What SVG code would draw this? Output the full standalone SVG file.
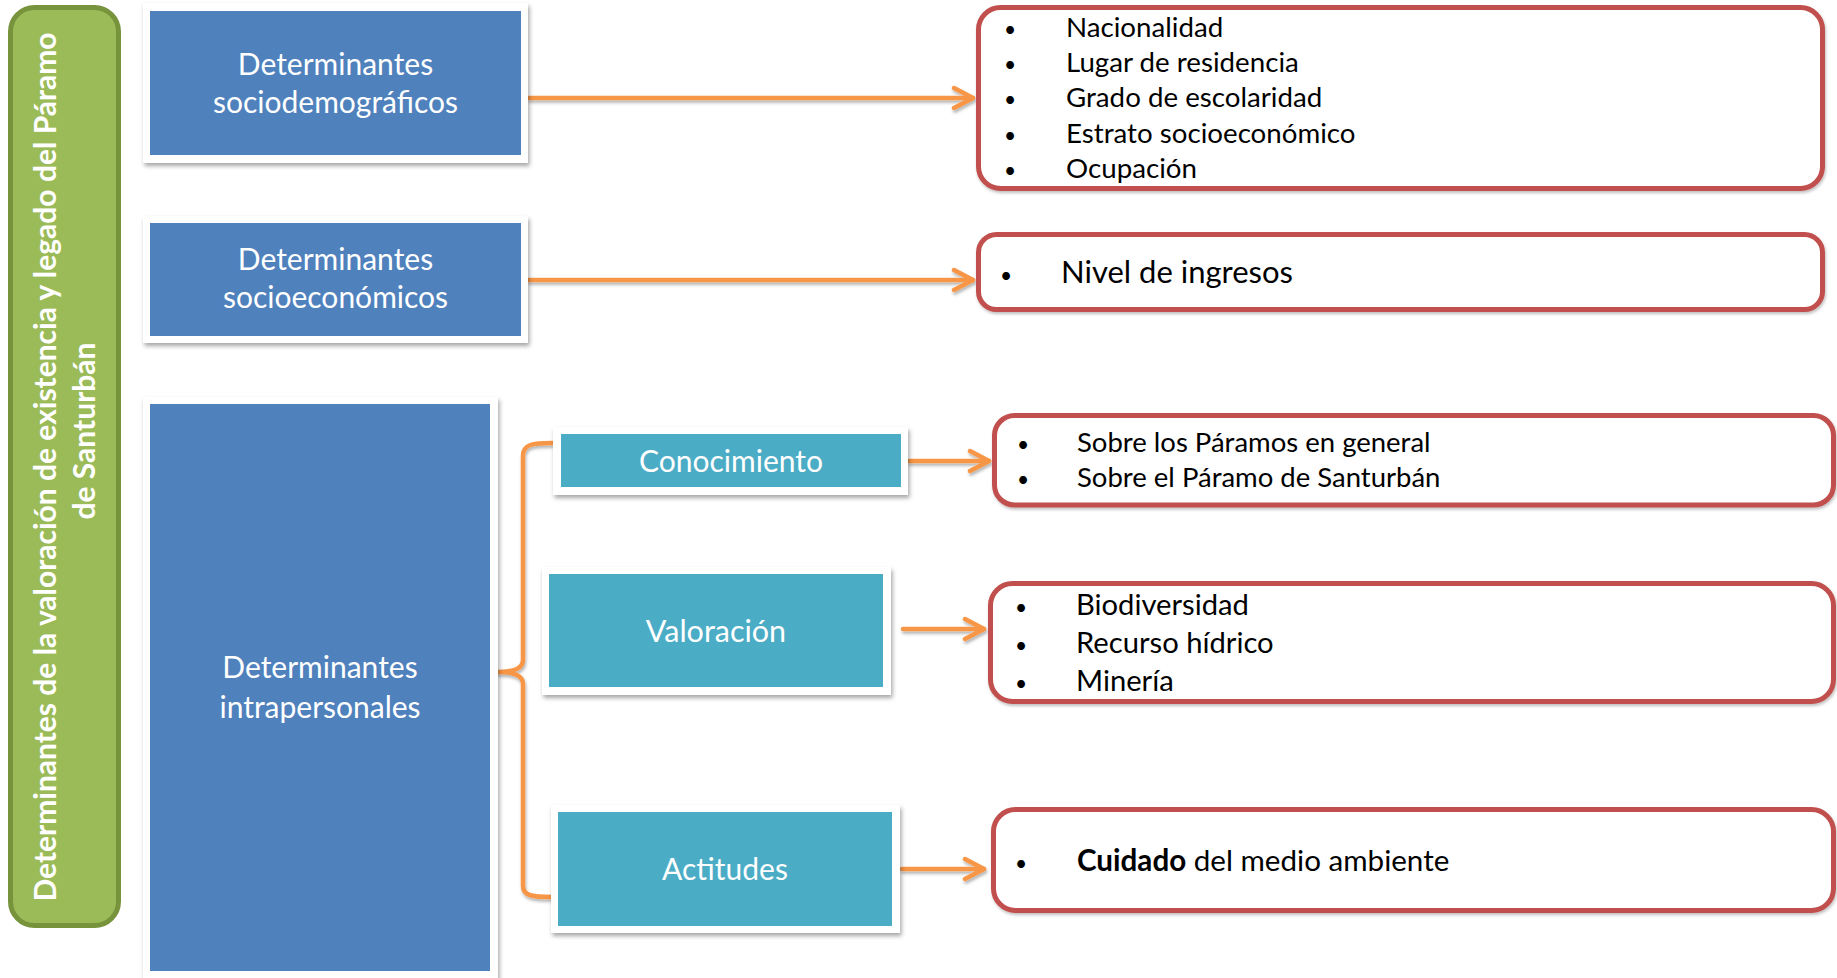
<svg xmlns="http://www.w3.org/2000/svg" width="1837" height="978" viewBox="0 0 1837 978">
  <style>
    .frame { fill: #ffffff; filter: url(#shadow); }
    .blue { fill: #4F81BD; }
    .teal { fill: #4BACC6; }
    .ntext { font-family: Lato, "Open Sans", sans-serif; fill: #ffffff; text-anchor: middle; }
    .list { fill: #ffffff; stroke: #C0504D; stroke-width: 5; filter: url(#shadow2); }
    .ltext { font-family: Lato, "Open Sans", sans-serif; fill: #000000; }
    .bul { text-anchor: middle; font-size: 21px; }
    .conn { fill: none; stroke: #F79646; stroke-width: 4.5; stroke-linecap: round; stroke-linejoin: round; }
    .title { font-family: Lato, "Open Sans", sans-serif; font-weight: bold; font-size: 30px; fill: #ffffff; text-anchor: middle; }
  </style>
  <defs>
    <filter id="shadow" x="-10%" y="-10%" width="120%" height="130%">
      <feDropShadow dx="1.5" dy="3" stdDeviation="2.2" flood-color="#000000" flood-opacity="0.35"/>
    </filter>
    <filter id="shadow2" x="-5%" y="-10%" width="110%" height="130%">
      <feDropShadow dx="1" dy="2" stdDeviation="1.5" flood-color="#000000" flood-opacity="0.25"/>
    </filter>
    <filter id="shadow3" x="-5%" y="-50%" width="110%" height="200%">
      <feDropShadow dx="1" dy="2.5" stdDeviation="1.5" flood-color="#000000" flood-opacity="0.3"/>
    </filter>
    <marker id="chev" markerUnits="userSpaceOnUse" viewBox="0 0 26 26" markerWidth="26" markerHeight="26" refX="22" refY="13" orient="auto">
      <path d="M3 3 L22 13 L3 23" fill="none" stroke="#F79646" stroke-width="4.5" stroke-linecap="round" stroke-linejoin="round"/>
    </marker>
  </defs>
  <rect width="1837" height="978" fill="#ffffff"/>

  <g id="title">
    <rect x="10.5" y="7.5" width="108" height="918" rx="24" fill="#9BBB59" stroke="#77933C" stroke-width="5"/>
    <text class="title" transform="translate(56,467) rotate(-90)">Determinantes de la valoración de existencia y legado del Páramo</text>
    <text class="title" transform="translate(95,431) rotate(-90)">de Santurbán</text>
  </g>

  <g id="connectors" filter="url(#shadow3)">
    <line class="conn" x1="529" y1="98" x2="973" y2="98" marker-end="url(#chev)"/>
    <line class="conn" x1="529" y1="280" x2="973" y2="280" marker-end="url(#chev)"/>
    <line class="conn" x1="909" y1="461" x2="989" y2="461" marker-end="url(#chev)"/>
    <line class="conn" x1="903" y1="629" x2="984" y2="629" marker-end="url(#chev)"/>
    <line class="conn" x1="902" y1="869" x2="984" y2="869" marker-end="url(#chev)"/>
    <path class="conn" d="M552 443 C533 443 523 444 523 456 L523 660 Q523 672 498 672 Q523 672 523 684 L523 886 C523 896 533 897 552 897"/>
  </g>

  <g id="n-sociodemo">
    <rect class="frame" x="143" y="3" width="385" height="160"/>
    <rect class="blue" x="150" y="11" width="371" height="144"/>
    <text class="ntext" x="335.5" y="75" font-size="30">Determinantes</text>
    <text class="ntext" x="335.5" y="113" font-size="30">sociodemográficos</text>
  </g>

  <g id="n-socioeco">
    <rect class="frame" x="143" y="216" width="385" height="127"/>
    <rect class="blue" x="150" y="223" width="371" height="113"/>
    <text class="ntext" x="335.5" y="270" font-size="30">Determinantes</text>
    <text class="ntext" x="335.5" y="308" font-size="30">socioeconómicos</text>
  </g>

  <g id="n-intra">
    <rect class="frame" x="143" y="397" width="355" height="590"/>
    <rect class="blue" x="150" y="404" width="340" height="567"/>
    <text class="ntext" x="320" y="678" font-size="30">Determinantes</text>
    <text class="ntext" x="320" y="718" font-size="30">intrapersonales</text>
  </g>

  <g id="n-conocimiento">
    <rect class="frame" x="553" y="427" width="355" height="68"/>
    <rect class="teal" x="561" y="434" width="340" height="53"/>
    <text class="ntext" x="731" y="472" font-size="30">Conocimiento</text>
  </g>

  <g id="n-valoracion">
    <rect class="frame" x="542" y="567" width="349" height="128"/>
    <rect class="teal" x="549" y="574" width="334" height="113"/>
    <text class="ntext" x="716" y="642" font-size="30.5">Valoración</text>
  </g>

  <g id="n-actitudes">
    <rect class="frame" x="551" y="805" width="349" height="128"/>
    <rect class="teal" x="558" y="812" width="334" height="114"/>
    <text class="ntext" x="725" y="880" font-size="30">Actitudes</text>
  </g>

  <g id="l-sociodemo">
    <rect class="list" x="978.5" y="7.5" width="844" height="181" rx="22"/>
    <g class="ltext" font-size="27.7">
      <text class="bul" x="1010" y="37">•</text><text x="1066" y="37">Nacionalidad</text>
      <text class="bul" x="1010" y="72">•</text><text x="1066" y="72">Lugar de residencia</text>
      <text class="bul" x="1010" y="107">•</text><text x="1066" y="107">Grado de escolaridad</text>
      <text class="bul" x="1010" y="143">•</text><text x="1066" y="143">Estrato socioeconómico</text>
      <text class="bul" x="1010" y="178">•</text><text x="1066" y="178">Ocupación</text>
    </g>
  </g>

  <g id="l-socioeco">
    <rect class="list" x="978.5" y="234.5" width="844" height="75" rx="18"/>
    <g class="ltext" font-size="31">
      <text class="bul" x="1006" y="283">•</text><text x="1061" y="283">Nivel de ingresos</text>
    </g>
  </g>

  <g id="l-conocimiento">
    <rect class="list" x="994.5" y="415.5" width="839" height="89.5" rx="20"/>
    <g class="ltext" font-size="27.5">
      <text class="bul" x="1023" y="452">•</text><text x="1077" y="452">Sobre los Páramos en general</text>
      <text class="bul" x="1023" y="487">•</text><text x="1077" y="487">Sobre el Páramo de Santurbán</text>
    </g>
  </g>

  <g id="l-valoracion">
    <rect class="list" x="990.5" y="583.5" width="843" height="118" rx="22"/>
    <g class="ltext" font-size="29.2">
      <text class="bul" x="1021" y="615">•</text><text x="1076" y="615">Biodiversidad</text>
      <text class="bul" x="1021" y="653">•</text><text x="1076" y="653">Recurso hídrico</text>
      <text class="bul" x="1021" y="691">•</text><text x="1076" y="691">Minería</text>
    </g>
  </g>

  <g id="l-actitudes">
    <rect class="list" x="993.5" y="809.5" width="840" height="101" rx="22"/>
    <g class="ltext" font-size="29.6">
      <text class="bul" x="1021" y="871">•</text><text x="1077" y="871"><tspan font-weight="bold">Cuidado</tspan> del medio ambiente</text>
    </g>
  </g>
</svg>
